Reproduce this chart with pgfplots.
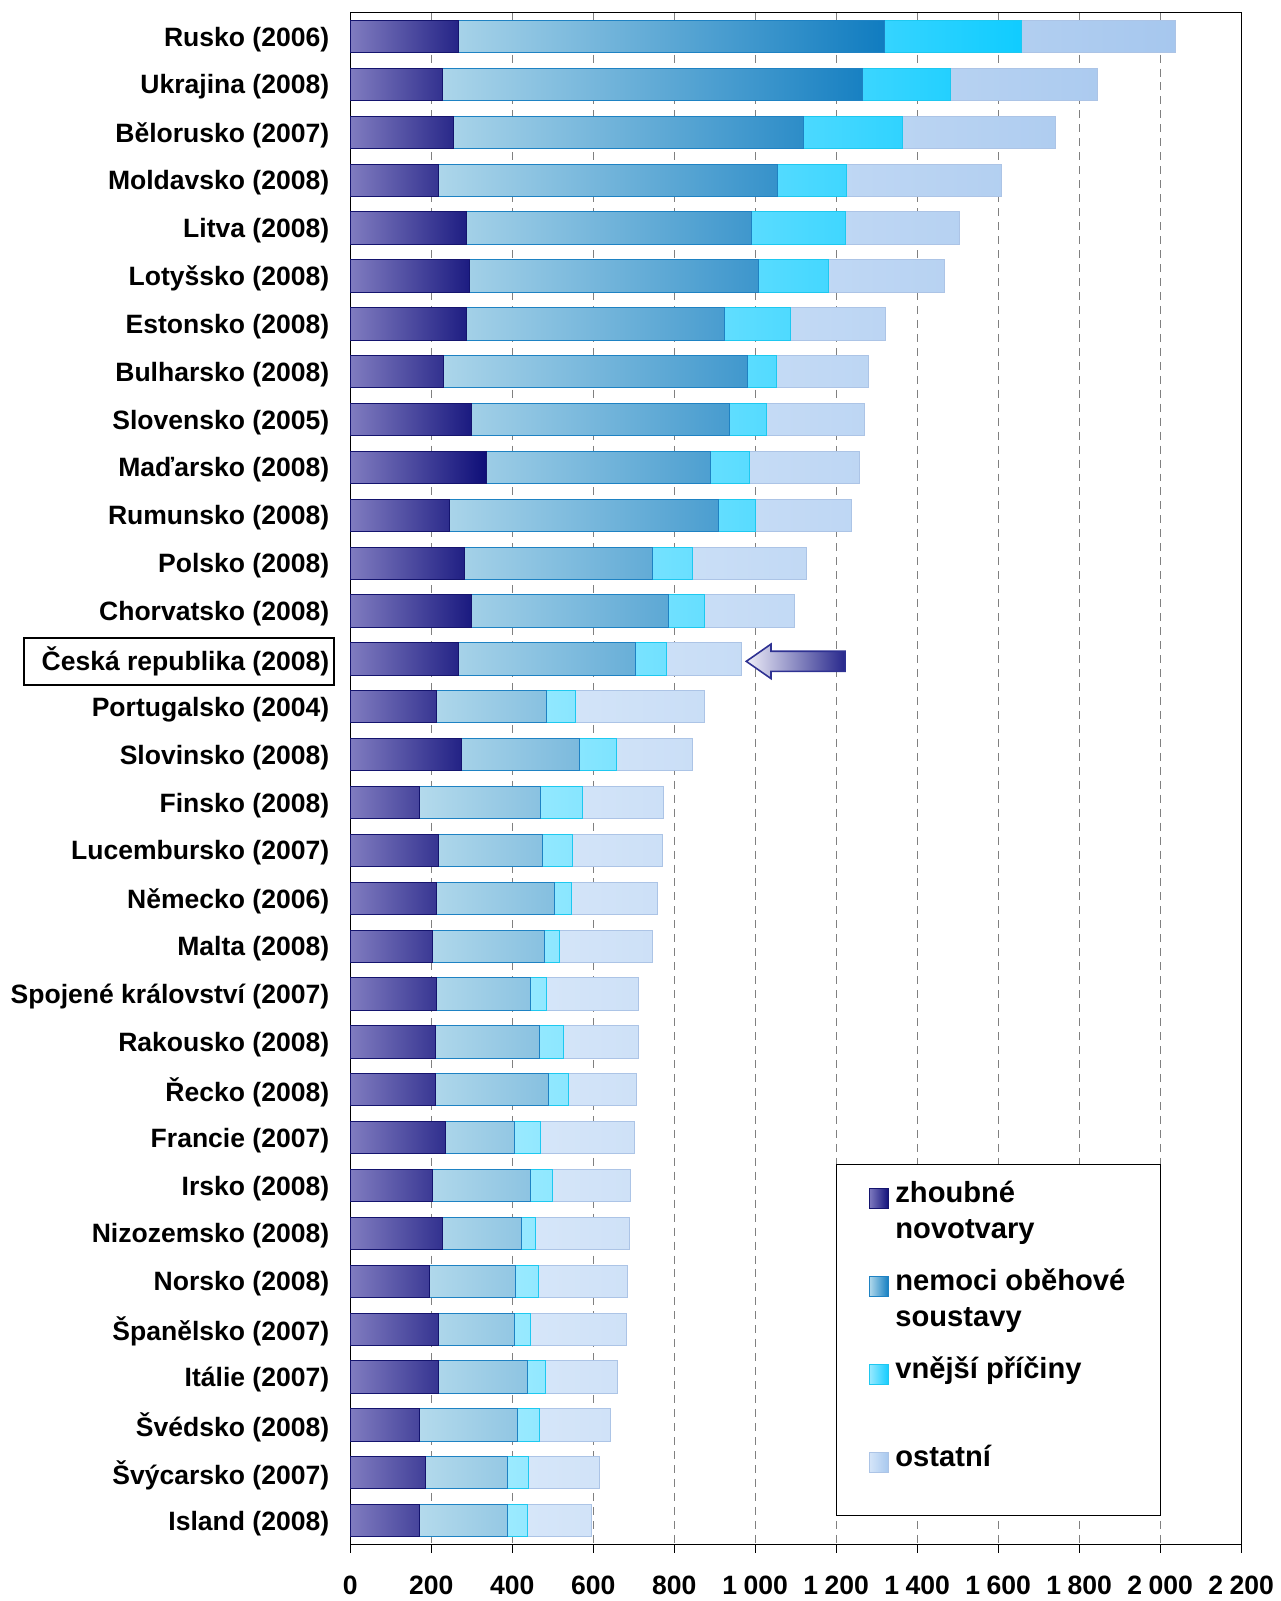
\documentclass[border=0pt]{standalone}
\usepackage{pgfplots}
\pgfplotsset{compat=1.18}
\usepackage{pgfplotstable}
\usepackage{fontspec}
\setmainfont{Liberation Sans}

\definecolor{zL}{RGB}{128,124,192}
\definecolor{zR}{RGB}{14,14,120}
\definecolor{zD}{RGB}{20,20,110}
\definecolor{cL}{RGB}{180,218,236}
\definecolor{cR}{RGB}{16,124,192}
\definecolor{cD}{RGB}{30,130,195}
\definecolor{eL}{RGB}{155,234,255}
\definecolor{eR}{RGB}{16,204,255}
\definecolor{eD}{RGB}{30,200,240}
\definecolor{oL}{RGB}{214,230,249}
\definecolor{oR}{RGB}{166,199,238}
\definecolor{oD}{RGB}{172,196,230}
\definecolor{arrL}{RGB}{238,238,248}
\definecolor{arrR}{RGB}{40,40,140}
\definecolor{arrD}{RGB}{46,49,146}

\newcommand{\ls}{\rule[-7pt]{0pt}{18pt}}
\newcommand{\lsb}{\rule[-15pt]{0pt}{26pt}}

\pgfplotstableread{
idx z o v s
0 267 1053 337 382
1 227 1037 219 362
2 256 864 244 377
3 219 837 170 383
4 288 703 231 283
5 294 715 171 287
6 288 636 163 236
7 230 750 73 226
8 300 636 93 241
9 336 553 98 271
10 244 665 92 237
11 283 463 100 281
12 299 486 89 223
13 268 437 76 186
14 214 271 72 319
15 276 290 92 187
16 170 300 104 199
17 219 256 74 221
18 212 293 42 211
19 204 275 39 228
20 212 234 39 227
21 211 256 60 185
22 210 280 48 168
23 236 169 65 232
24 204 241 54 193
25 227 196 35 232
26 195 214 57 219
27 219 186 41 236
28 219 219 43 179
29 170 244 53 175
30 187 201 53 174
31 170 218 50 157
}\data

\begin{document}
\begin{tikzpicture}
\begin{axis}[name=ax, scale only axis, width=446.6pt, height=767.9pt,
  xbar stacked, bar width=16.2pt,
  xmin=0, xmax=2200, ymin=-0.5, ymax=31.5, y dir=reverse,
  xtick={0,200,...,2200}, ytick={0,...,31},
  yticklabels={Rusko (2006), Ukrajina (2008), Bělorusko (2007), Moldavsko (2008), Litva (2008), Lotyšsko (2008), Estonsko (2008), Bulharsko (2008), Slovensko (2005), Maďarsko (2008), Rumunsko (2008), Polsko (2008), Chorvatsko (2008), {\setlength\fboxrule{1pt}\setlength\fboxsep{0pt}\fbox{\rule[-6.85pt]{0pt}{23pt}\hspace{8.2pt}Česká republika (2008)\hspace{1.9pt}}\kern-2.9pt}, Portugalsko (2004), Slovinsko (2008), Finsko (2008), Lucembursko (2007), Německo (2006), Malta (2008), Spojené království (2007), Rakousko (2008), Řecko (2008), Francie (2007), Irsko (2008), Nizozemsko (2008), Norsko (2008), Španělsko (2007), Itálie (2007), Švédsko (2008), Švýcarsko (2007), Island (2008)},
  xmajorgrids, major grid style={gray, line width=0.5pt, dash pattern=on 4pt off 3pt},
  tick align=outside, xtick pos=lower, ytick pos=left, ytick style={draw=none},
  major tick length=4pt, xtick style={black, line width=0.5pt},
  axis line style={black, line width=0.6pt},
  xticklabel style={font=\fontsize{13.3}{15}\selectfont\bfseries, yshift=-8pt, /pgf/number format/assume math mode=true, /pgf/number format/1000 sep={\hspace{0.25em}}},
  yticklabel style={font=\fontsize{13.3}{15}\selectfont\bfseries, xshift=-3pt, yshift=-1.3pt},
  legend cell align=left,
  legend image code/.code={\draw[#1] (0pt,-5pt) rectangle (10pt,5pt);},
  legend style={draw=none, fill=none, at={(0.54545,0.248125)}, anchor=north west, xshift=16pt, yshift=-8pt,
    inner sep=0pt, nodes={inner sep=0pt, text depth={}}, row sep=0pt, column sep=3pt,
    font=\fontsize{14.6}{17}\selectfont\bfseries},
]
\addplot[draw=zD, line width=0.5pt, left color=zL, right color=zR] table[x=z, y=idx] {\data};
\addlegendentry{zhoubné\ls}
\addlegendimage{empty legend}
\addlegendentry{novotvary\lsb}
\addplot[draw=cD, line width=0.5pt, left color=cL, right color=cR] table[x=o, y=idx] {\data};
\addlegendentry{nemoci oběhové\ls}
\addlegendimage{empty legend}
\addlegendentry{soustavy\lsb}
\addplot[draw=eD, line width=0.5pt, left color=eL, right color=eR] table[x=v, y=idx] {\data};
\addlegendentry{vnější příčiny\ls}
\addlegendimage{empty legend}
\addlegendentry{\lsb}
\addplot[draw=oD, line width=0.5pt, left color=oL, right color=oR] table[x=s, y=idx] {\data};
\addlegendentry{ostatní\ls}
\draw[black, line width=0.6pt, fill=white] (axis cs:1200,23.56) rectangle (axis cs:2000,30.89);
\draw[draw=arrD, line width=0.8pt, left color=arrL, right color=arrR]
  (axis cs:978,13.05) -- (axis cs:1039,12.69) -- (axis cs:1039,12.84) -- (axis cs:1222,12.84)
  -- (axis cs:1222,13.26) -- (axis cs:1039,13.26) -- (axis cs:1039,13.41) -- cycle;
\end{axis}
\path ([xshift=-175.55pt, yshift=6.35pt]ax.north west) rectangle ([xshift=17.35pt, yshift=-26.25pt]ax.south east);
\end{tikzpicture}
\end{document}
